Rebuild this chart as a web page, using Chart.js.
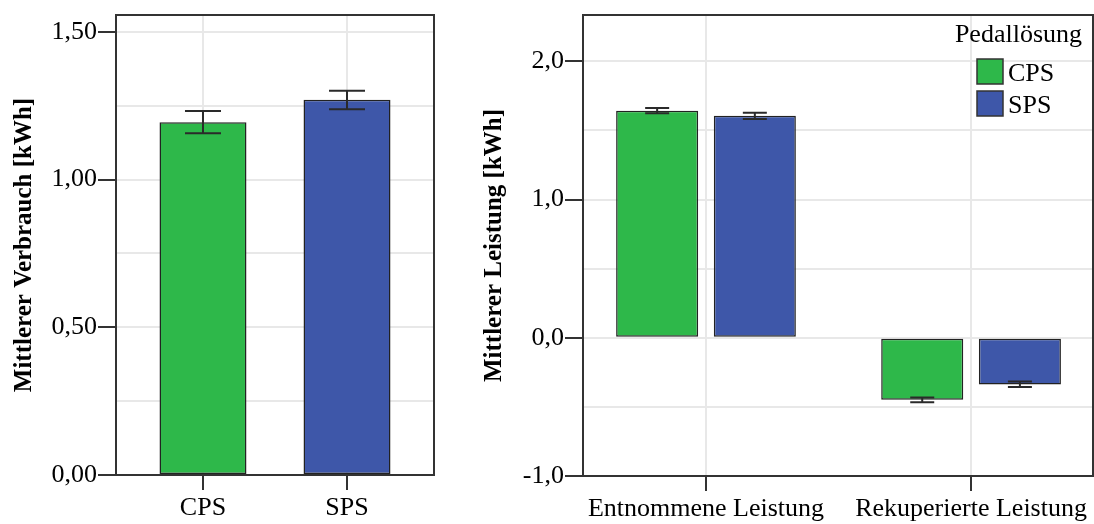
<!DOCTYPE html>
<html lang="de">
<head>
<meta charset="utf-8">
<title>Mittlerer Verbrauch und Leistung nach Pedallösung</title>
<script src="https://cdn.jsdelivr.net/npm/chart.js@4.4.1/dist/chart.umd.min.js"></script>
<style>
    html, body { margin: 0; padding: 0; background: #ffffff; }
    body { width: 1094px; height: 524px; position: relative; overflow: hidden; }
    #verbrauch-chart { position: absolute; left: 0; top: 0; }
    #leistung-chart { position: absolute; left: 470px; top: 0; }
</style>
</head>
<body>
<canvas id="verbrauch-chart" width="440" height="524"></canvas>
<canvas id="leistung-chart" width="624" height="524"></canvas>
<script>
// ---- data ----
const pedalTypes = ['CPS', 'SPS'];
const verbrauchMean = [1.194, 1.270];
const verbrauchLow = [1.157, 1.238];
const verbrauchHigh = [1.232, 1.301];

const leistungCategories = ['Entnommene Leistung', 'Rekuperierte Leistung'];
const leistungCps = [1.643, -0.448];
const leistungCpsLow = [1.624, -0.466];
const leistungCpsHigh = [1.663, -0.432];
const leistungSps = [1.607, -0.338];
const leistungSpsLow = [1.583, -0.357];
const leistungSpsHigh = [1.627, -0.316];

const verbrauchGridTicks = [0, 0.25, 0.5, 0.75, 1.0, 1.25, 1.5];
const verbrauchLabelTicks = [0, 0.5, 1.0, 1.5];
const leistungGridTicks = [-1.0, -0.5, 0, 0.5, 1.0, 1.5, 2.0];
const leistungLabelTicks = [-1.0, 0, 1.0, 2.0];

const pedalColors = ['#2eb84a', '#3e57a9'];
const FONT_FAMILY = '"Liberation Serif", "Times New Roman", serif';

/**
 * frame around the plot area (SPSS style box)
 */
const framePlugin = {
    id: 'plotFrame',
    afterDatasetsDraw(chart) {
        const { ctx, chartArea } = chart;
        ctx.save();
        ctx.strokeStyle = '#333333';
        ctx.lineWidth = 2;
        ctx.strokeRect(chartArea.left, chartArea.top, chartArea.right - chartArea.left, chartArea.bottom - chartArea.top);
        ctx.restore();
    }
};

/**
 * error bars from dataset.errorLow / dataset.errorHigh
 */
const errorBarPlugin = {
    id: 'errorBars',
    afterDatasetsDraw(chart, args, opts) {
        const { ctx } = chart;
        const yScale = chart.scales.y;
        const half = opts.capWidth / 2;

        chart.data.datasets.forEach((ds, di) => {
            if (!ds.errorLow) return;
            const meta = chart.getDatasetMeta(di);
            meta.data.forEach((bar, i) => {
                const yLow = yScale.getPixelForValue(ds.errorLow[i]);
                const yHigh = yScale.getPixelForValue(ds.errorHigh[i]);
                ctx.save();
                ctx.strokeStyle = '#2a2a2a';
                ctx.lineWidth = 2;
                ctx.beginPath();
                ctx.moveTo(bar.x, yLow);
                ctx.lineTo(bar.x, yHigh);
                ctx.moveTo(bar.x - half, yLow);
                ctx.lineTo(bar.x + half, yLow);
                ctx.moveTo(bar.x - half, yHigh);
                ctx.lineTo(bar.x + half, yHigh);
                ctx.stroke();
                ctx.restore();
            });
        });
    }
};

/**
 * legend inside the plot, top right ("Pedallösung")
 */
const pedalLegendPlugin = {
    id: 'pedalLegend',
    afterDraw(chart, args, opts) {
        if (!opts.title) return;
        const { ctx, chartArea } = chart;
        const boxX = chartArea.right - 116;

        ctx.save();
        ctx.font = `26px ${FONT_FAMILY}`;
        ctx.fillStyle = '#000000';
        ctx.textBaseline = 'middle';
        ctx.textAlign = 'right';
        ctx.fillText(opts.title, chartArea.right - 11, chartArea.top + 20);

        ctx.textAlign = 'left';
        chart.data.datasets.forEach((ds, i) => {
            const boxY = chartArea.top + 44 + i * 32;
            ctx.fillStyle = ds.backgroundColor;
            ctx.fillRect(boxX, boxY, 26, 25);
            ctx.strokeStyle = '#333333';
            ctx.lineWidth = 1.5;
            ctx.strokeRect(boxX, boxY, 26, 25);
            ctx.fillStyle = '#000000';
            ctx.fillText(ds.label, boxX + 31, boxY + 15);
        });
        ctx.restore();
    }
};

class PedalChartManager {
    constructor() {
        this.charts = new Map();
        console.log('📊 PedalChartManager init');
    }

    initialize() {
        this.createVerbrauchChart('verbrauch-chart');
        this.createLeistungChart('leistung-chart');
        console.log('✅ charts drawn:', this.charts.size);
    }

    /**
     * y axis: grid every tick in gridTicks, label + tick mark only for labelTicks
     */
    buildYScale(gridTicks, labelTicks, min, max, decimals, title, width) {
        return {
            min: min,
            max: max,
            afterBuildTicks: (scale) => {
                scale.ticks = gridTicks.map(v => ({ value: v }));
            },
            afterFit: (scale) => {
                scale.width = width;
                scale.paddingTop = 0;
                scale.paddingBottom = 0;
            },
            ticks: {
                autoSkip: false,
                padding: 1,
                color: '#000000',
                font: { family: FONT_FAMILY, size: 26 },
                callback: (v) => labelTicks.includes(v) ? v.toFixed(decimals).replace('.', ',') : ''
            },
            grid: {
                color: '#e8e8e8',
                lineWidth: 2,
                tickLength: 18,
                tickWidth: 2,
                tickColor: (ctx) => (ctx.tick && labelTicks.includes(ctx.tick.value)) ? '#333333' : 'rgba(0,0,0,0)'
            },
            border: { display: false },
            title: {
                display: true,
                text: title,
                color: '#000000',
                padding: { top: 10, bottom: 0 },
                font: { family: FONT_FAMILY, size: 25, weight: 'bold' }
            }
        };
    }

    /**
     * x axis: linear index so the category centres can sit where the reference has them
     */
    buildXScale(categories, min, max, height) {
        return {
            type: 'linear',
            min: min,
            max: max,
            offset: false,
            afterBuildTicks: (scale) => {
                scale.ticks = categories.map((c, i) => ({ value: i }));
            },
            afterFit: (scale) => {
                scale.height = height;
                scale.paddingLeft = 0;
                scale.paddingRight = 0;
            },
            ticks: {
                autoSkip: false,
                maxRotation: 0,
                minRotation: 0,
                padding: 3,
                color: '#000000',
                font: { family: FONT_FAMILY, size: 26 },
                callback: (v) => categories[v] !== undefined ? categories[v] : ''
            },
            grid: {
                offset: false,
                color: '#e8e8e8',
                lineWidth: 2,
                tickLength: 15,
                tickWidth: 2,
                tickColor: '#333333'
            },
            border: { display: false }
        };
    }

    createVerbrauchChart(canvasId) {
        const canvas = document.getElementById(canvasId);
        if (!canvas) return;

        const chart = new Chart(canvas.getContext('2d'), {
            type: 'bar',
            data: {
                datasets: [{
                    label: 'Mittlerer Verbrauch',
                    data: pedalTypes.map((p, i) => ({ x: i, y: verbrauchMean[i] })),
                    errorLow: verbrauchLow,
                    errorHigh: verbrauchHigh,
                    backgroundColor: pedalColors,
                    borderColor: '#222222',
                    borderWidth: 1.5,
                    borderSkipped: false,
                    categoryPercentage: 1.0,
                    barPercentage: 0.604
                }]
            },
            options: {
                responsive: false,
                animation: false,
                layout: { padding: { top: 15, right: 6, left: 0, bottom: 0 } },
                plugins: {
                    legend: { display: false },
                    tooltip: { enabled: false },
                    errorBars: { capWidth: 36 },
                    pedalLegend: { title: null }
                },
                scales: {
                    x: this.buildXScale(pedalTypes, -0.604, 1.604, 49),
                    y: this.buildYScale(verbrauchGridTicks, verbrauchLabelTicks, 0, 1.557, 2, 'Mittlerer Verbrauch [kWh]', 116)
                }
            },
            plugins: [errorBarPlugin, framePlugin, pedalLegendPlugin]
        });

        this.charts.set(canvasId, chart);
    }

    createLeistungChart(canvasId) {
        const canvas = document.getElementById(canvasId);
        if (!canvas) return;

        const seriesCfg = [
            { label: 'CPS', values: leistungCps, low: leistungCpsLow, high: leistungCpsHigh },
            { label: 'SPS', values: leistungSps, low: leistungSpsLow, high: leistungSpsHigh }
        ];

        const chart = new Chart(canvas.getContext('2d'), {
            type: 'bar',
            data: {
                datasets: seriesCfg.map((s, si) => ({
                    label: s.label,
                    data: leistungCategories.map((c, i) => ({ x: i, y: s.values[i] })),
                    errorLow: s.low,
                    errorHigh: s.high,
                    backgroundColor: pedalColors[si],
                    borderColor: '#222222',
                    borderWidth: 1.5,
                    borderSkipped: false,
                    categoryPercentage: 0.737,
                    barPercentage: 0.84
                }))
            },
            options: {
                responsive: false,
                animation: false,
                layout: { padding: { top: 15, right: 1, left: 0, bottom: 0 } },
                plugins: {
                    legend: { display: false },
                    tooltip: { enabled: false },
                    errorBars: { capWidth: 24 },
                    pedalLegend: { title: 'Pedallösung' }
                },
                scales: {
                    x: this.buildXScale(leistungCategories, -0.464, 1.460, 48),
                    y: this.buildYScale(leistungGridTicks, leistungLabelTicks, -1.0, 2.335, 1, 'Mittlerer Leistung [kWh]', 113)
                }
            },
            plugins: [errorBarPlugin, framePlugin, pedalLegendPlugin]
        });

        this.charts.set(canvasId, chart);
    }
}

window.pedalChartManager = new PedalChartManager();
window.pedalChartManager.initialize();
</script>
</body>
</html>
